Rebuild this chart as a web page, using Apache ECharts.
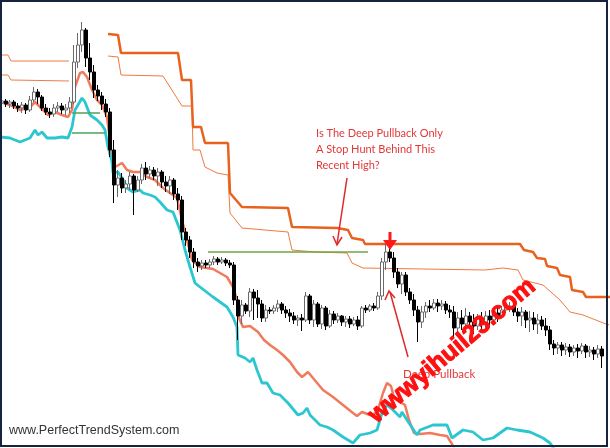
<!DOCTYPE html>
<html><head><meta charset="utf-8">
<script src="https://cdn.jsdelivr.net/npm/echarts@6/dist/echarts.min.js"></script>
<style>html,body{margin:0;padding:0;background:#fff}#c{width:610px;height:448px}</style>
</head><body><div id="c"></div>
<script>
// bar categories (one per price bar)
const categories = Array.from({length: 152}, (_, i) => 'B' + i);

// OHLC bars: [open, close, low, high] (price level units)
const bars = [
[357,359,354,361],[359,356,353,361],[356,358,352,360],[358,354,351,360],[354,352,348,357],
[352,355,347,358],[355,350,346,357],[350,360,348,364],[360,368,358,373],[368,363,356,371],
[363,352,349,365],[352,348,345,356],[348,346,342,352],[346,352,343,356],[352,354,348,358],
[354,350,346,357],[350,352,345,356],[352,358,347,363],[358,398,356,415],[398,415,392,427],
[415,430,408,438],[430,402,393,432],[402,388,380,417],[388,370,362,395],[370,364,359,375],
[364,356,350,368],[356,348,343,361],[348,310,303,352],[310,275,257,320],[275,282,263,290],
[282,272,267,287],[272,276,267,280],[276,284,270,288],[284,270,245,286],[270,280,268,284],
[280,292,276,296],[292,286,280,298],[286,290,282,294],[290,284,280,293],[284,288,274,292],
[288,278,272,290],[278,274,268,284],[274,280,266,284],[280,266,260,282],[266,260,250,272],
[260,228,220,264],[228,220,214,232],[220,208,202,224],[208,198,192,212],[198,194,188,202],
[194,197,190,200],[197,195,192,200],[195,198,192,201],[198,201,195,204],[201,198,195,203],
[198,200,196,203],[200,197,194,202],[197,195,192,200],[195,160,155,198],[160,144,120,164],
[144,155,136,160],[155,149,146,157],[149,168,143,172],[168,162,140,171],[162,156,142,170],
[156,142,138,160],[142,150,138,155],[150,149,146,153],[149,152,146,155],[152,156,148,160],
[156,150,146,158],[150,147,142,154],[147,144,138,151],[144,140,136,148],[140,142,134,145],
[142,140,129,146],[140,164,138,168],[164,140,136,166],[140,156,133,160],[156,136,133,158],
[136,152,131,155],[152,134,130,154],[134,146,132,150],[146,140,136,149],[140,144,137,147],
[144,138,134,145],[138,141,133,144],[141,136,132,144],[136,140,134,143],[140,134,130,144],
[134,152,132,154],[152,150,147,155],[150,154,148,156],[154,152,149,157],[152,164,150,168],
[164,198,160,202],[198,208,190,216],[208,202,198,212],[202,188,182,208],[188,176,172,192],
[176,185,166,188],[185,168,164,188],[168,160,156,172],[160,150,144,166],[150,138,118,154],
[138,148,132,154],[148,154,142,158],[154,152,148,160],[152,157,150,161],[157,154,148,161],
[154,156,150,160],[156,150,146,159],[150,148,142,155],[148,132,123,154],[132,142,128,148],
[142,136,130,150],[136,144,130,152],[144,138,132,148],[138,134,126,146],[134,142,130,146],
[142,136,128,148],[136,144,130,149],[144,140,135,150],[140,147,136,151],[147,144,138,152],
[144,150,142,154],[150,153,147,157],[153,154,148,158],[154,148,144,157],[148,144,138,152],
[144,148,134,153],[148,140,132,150],[140,142,128,149],[142,136,130,148],[136,140,126,146],
[140,134,130,144],[134,130,124,142],[130,116,110,134],[116,112,105,120],[112,115,106,118],
[115,110,104,118],[110,113,105,117],[113,108,103,116],[108,112,104,115],[112,109,102,116],
[109,114,106,117],[114,108,102,116],[108,110,103,114],[110,106,100,113],[106,111,102,115],
[111,104,92,114]
];

// indicator lines: [time, level]
const redLine = [[0,358],[2.5,355],[5,350],[7.5,353],[8.75,358],[10,353],[12,345],[13.75,348],[15.5,345],[17,343],
[18,350],[18.75,373],[20,387],[20.75,388],[21.75,383],[23,370],[24.25,360],[25.5,355],[26.75,343],[27.5,320],
[28,300],[28.75,293],[30.5,297],[31.75,290],[33.25,288],[35,288],[36.75,283],[38.75,280],[40.75,272],[42.5,267],
[44.25,262],[45.5,240],[46.75,220],[48,200],[50,193],[53.25,191],[56.75,183],[58.25,173],[59.25,160],[59.75,142],
[60.75,133],[62.5,134],[64.5,128],[66,120],[67.5,115],[69.25,110],[70.75,105],[72.5,98],[74.25,88],[75.5,83],
[77,88],[78.25,82],[79.5,76],[80.75,70],[83.25,63],[85.75,55],[88.25,47],[89.25,44],[90.5,48],[92.5,45],
[94.25,47],[95.75,67],[96.75,77],[97.75,74],[98.5,62],[100,58],[101.25,55],[102.25,40],[103.5,27],[105,26],
[107.5,27],[110,25],[111.75,24],[113,16],[114,8]];

const cyanLine = [[0,323],[2.5,322],[5,318],[7.5,322],[8.75,330],[9.5,325],[10.5,328],[11.75,322],[13.75,322],[15.5,323],
[17,322],[18,333],[18.75,350],[20.5,362],[21.25,358],[22.5,345],[24.25,340],[25.5,335],[26.25,330],[27,313],
[28,298],[28.25,287],[29.5,288],[30.5,282],[31.75,272],[33.25,268],[35,270],[35.75,267],[37.5,265],[38.75,263],
[40,258],[41.75,250],[43.25,248],[45,230],[46.25,210],[47.5,193],[48.75,177],[50,173],[53.25,163],[56.75,153],
[58.25,143],[59.25,133],[59.5,105],[61.25,102],[62.5,98],[63.25,102],[64.25,90],[65.5,77],[66.75,77],[68.25,67],
[70,65],[72,57],[74.5,45],[75.75,47],[76.75,52],[77.5,45],[78.75,40],[80,35],[81.75,33],[83.25,30],
[85.75,23],[88.25,17],[90,25],[92.5,27],[94.25,30],[95.5,47],[96.75,55],[98.25,50],[100,43],[100.5,48],
[101.75,40],[104.25,25],[105,30],[108.25,35],[111.75,35],[113,22],[115.75,30],[118.25,28],[120.75,20],[123.25,22],
[126.75,32],[129.25,30],[132.5,28],[135.75,22],[137.5,17],[139,8]];

const stopThick = [[27,426],[29.5,425],[30.25,407],[44.5,407],[45.5,380],[47.75,380],[48.25,333],[50.25,333],[51.25,317],[57,317],
[57.5,267],[60.5,253],[72,252],[73,233],[84.25,232],[87,230],[88,222],[90.75,220],[91.25,216],[130,216],
[131,210],[133.25,208],[134.25,202],[136.25,201],[136.75,194],[139.25,192],[140,185],[142.5,183],[143,170],[145.75,168],
[146.5,163],[152.5,163]];

const stopThin = [[27,404],[29.5,403],[30.25,385],[40.75,384],[45.5,354],[48,354],[48.25,310],[50,310],[51.25,293],[54.25,287],
[57,285],[57.5,247],[60.5,232],[72,228],[73,210],[78.75,208],[86.75,207],[88,197],[90.75,192],[121.25,190],
[125.75,192],[129.5,190],[130.75,180],[135.75,175],[140,160],[142.5,148],[145.75,145],[151.5,136],[152.5,135]];

const oldStopA = [[0,405],[2,405],[2.75,399],[17.25,399]];
const oldStopB = [[0,385],[2,385],[2.75,380],[17.25,379]];

const greenA = [[18,347],[25,347]];
const greenB = [[18,327],[26.25,327]];
const greenHigh = [[52,208],[92,208]];

const noteLines = ['Is The Deep Pullback Only', 'A Stop Hunt Behind This', 'Recent High?'];
const pullbackLabel = 'Deep Pullback';
const siteLabel = 'www.PerfectTrendSystem.com';
const watermark = 'wwwyihuil23.com';

const chart = echarts.init(document.getElementById('c'), null, {renderer: 'canvas'});

function ln(data, color, width, z) {
  return {type: 'line', xAxisIndex: 1, yAxisIndex: 0, data: data, symbol: 'none', silent: true,
    lineStyle: {color: color, width: width}, itemStyle: {color: color}, z: z || 2, clip: true};
}
const red = '#e23838';
const option = {
  animation: false,
  backgroundColor: '#ffffff',
  grid: {left: 0, right: 2, top: 0, bottom: 2},
  xAxis: [
    {type: 'category', data: categories, boundaryGap: true, show: false},
    {type: 'value', min: 0, max: 152, show: false}
  ],
  yAxis: [{type: 'value', min: 14, max: 460, show: false, splitLine: {show: false}}],
  series: [
    ln(oldStopA, '#ef7d45', 1),
    ln(oldStopB, '#ef7d45', 1),
    ln(stopThin, '#ee7a40', 1),
    ln(stopThick, '#e8621e', 2.5),
    ln(redLine, '#f07a5c', 2.5),
    ln(cyanLine, '#2cc6d0', 2.8),
    ln(greenA, '#4fa25a', 1.5, 4),
    ln(greenB, '#4fa25a', 1.5, 4),
    ln(greenHigh, '#6aa843', 1.5, 4),
    {type: 'candlestick', xAxisIndex: 0, yAxisIndex: 0, data: bars, barWidth: 3, z: 3, silent: true,
      itemStyle: {color: '#ffffff', color0: '#000000', borderColor: '#6a6a6a', borderColor0: '#000000', borderWidth: 1}}
  ],
  graphic: [
    {type: 'text', x: 9, y: 431, z: 50, style: {text: siteLabel, font: '12.5px "Liberation Sans"', fill: '#333333', textVerticalAlign: 'middle'}},
    {type: 'text', x: 316, y: 133, z: 50, style: {text: noteLines[0], font: '11px Lato', fill: red, textVerticalAlign: 'middle'}},
    {type: 'text', x: 316, y: 149, z: 50, style: {text: noteLines[1], font: '11px Lato', fill: red, textVerticalAlign: 'middle'}},
    {type: 'text', x: 316, y: 165, z: 50, style: {text: noteLines[2], font: '11px Lato', fill: red, textVerticalAlign: 'middle'}},
    {type: 'text', x: 403, y: 374, z: 50, style: {text: pullbackLabel, font: '11.5px Lato', fill: red, textVerticalAlign: 'middle'}},
    {type: 'line', z: 50, shape: {x1: 347, y1: 178, x2: 337, y2: 244}, style: {stroke: '#e02828', lineWidth: 1.5}},
    {type: 'polyline', z: 50, shape: {points: [[333, 236], [337, 245], [342, 237]]}, style: {stroke: '#e02828', lineWidth: 1.5, fill: 'none'}},
    {type: 'line', z: 50, shape: {x1: 408, y1: 357, x2: 390, y2: 292}, style: {stroke: '#e02828', lineWidth: 1.5}},
    {type: 'polyline', z: 50, shape: {points: [[385, 300], [389, 291], [395, 298]]}, style: {stroke: '#e02828', lineWidth: 1.5, fill: 'none'}},
    {type: 'line', z: 50, shape: {x1: 390, y1: 232, x2: 390, y2: 243}, style: {stroke: '#ff1a1a', lineWidth: 3}},
    {type: 'polygon', z: 50, shape: {points: [[383, 240], [397, 240], [390, 250]]}, style: {fill: '#ff1a1a'}},
    {type: 'text', x: 452, y: 351, rotation: 0.70, z: 60, style: {text: watermark, font: 'bold 25px "Liberation Sans"', fill: '#ff1010', stroke: '#ff1010', lineWidth: 1, textAlign: 'center', textVerticalAlign: 'middle'}},
    {type: 'rect', z: 100, shape: {x: 1, y: 1, width: 606, height: 445}, style: {fill: 'none', stroke: '#15233d', lineWidth: 2}}
  ]
};
chart.setOption(option);
</script></body></html>
